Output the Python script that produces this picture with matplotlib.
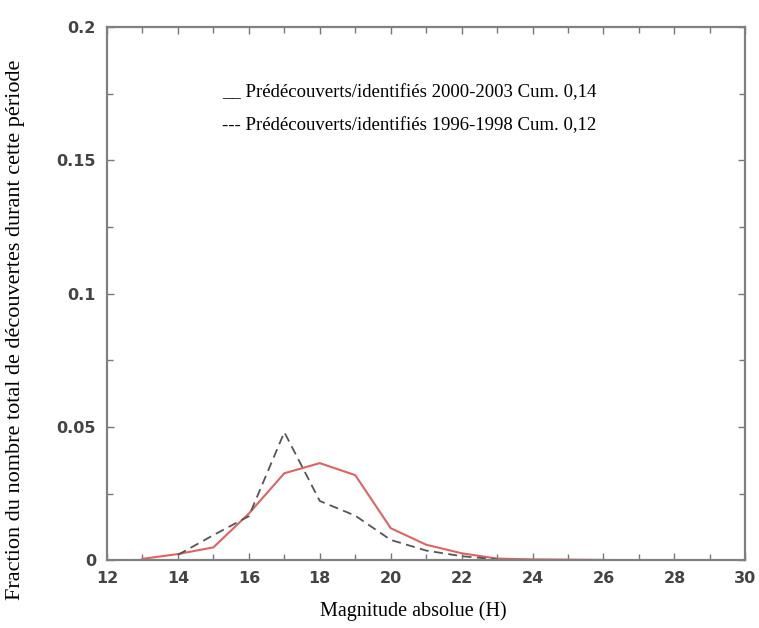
import matplotlib
matplotlib.use("Agg")
import matplotlib.pyplot as plt
from matplotlib.ticker import MultipleLocator, FormatStrFormatter

# magnitude bins (H)
mag_recent = [13, 14, 15, 16, 17, 18, 19, 20, 21, 22, 23, 24, 25, 26]
frac_recent = [0.0005, 0.0023, 0.0048, 0.0175, 0.0326, 0.0364, 0.0319, 0.0120,
               0.0058, 0.0026, 0.0006, 0.0003, 0.0002, 0.0001]

mag_old = [14, 15, 16, 17, 18, 19, 20, 21, 22, 23]
frac_old = [0.0020, 0.0094, 0.0165, 0.0480, 0.0222, 0.0167, 0.0076, 0.0036,
            0.0015, 0.0003]

legend_lines = ["__ Prédécouverts/identifiés 2000-2003 Cum. 0,14",
                "--- Prédécouverts/identifiés 1996-1998 Cum. 0,12"]

fig = plt.figure(figsize=(7.59, 6.28), dpi=100)
ax = fig.add_axes([0.141, 0.108, 0.841, 0.849])

ax.plot(mag_recent, frac_recent, color="#dc6464", lw=1.5)
ax.plot(mag_old, frac_old, color="#555555", lw=1.3, ls=(0, (5, 3)))

ax.set_xlim(12, 30)
ax.set_ylim(0, 0.2)
ax.xaxis.set_major_locator(MultipleLocator(2))
ax.xaxis.set_minor_locator(MultipleLocator(1))
ax.yaxis.set_major_locator(MultipleLocator(0.05))
ax.yaxis.set_minor_locator(MultipleLocator(0.025))
ax.yaxis.set_major_formatter(FormatStrFormatter("%g"))

for s in ax.spines.values():
    s.set_color("#808080")
    s.set_linewidth(1.6)
ax.tick_params(which="both", direction="in", top=True, right=True,
               color="#777777", width=1.0)
ax.tick_params(which="major", length=5, labelsize=11.5, labelcolor="#444444", pad=8)
ax.tick_params(which="minor", length=4)
for lab in ax.get_xticklabels() + ax.get_yticklabels():
    lab.set_fontweight("bold")
    lab.set_family("DejaVu Sans")

serif = "Liberation Serif"
ax.text(0.180, 0.877, legend_lines[0], transform=ax.transAxes, fontsize=13.5,
        family=serif, va="center")
ax.text(0.180, 0.815, legend_lines[1], transform=ax.transAxes, fontsize=13.5,
        family=serif, va="center")

fig.text(0.544, 0.027, "Magnitude absolue (H)", ha="center", va="center",
         fontsize=14.5, family=serif)
fig.text(0.021, 0.475, "Fraction du nombre total de découvertes durant cette période",
         rotation=90, ha="center", va="center", fontsize=16, family=serif)

fig.savefig("out.png", dpi=100)
